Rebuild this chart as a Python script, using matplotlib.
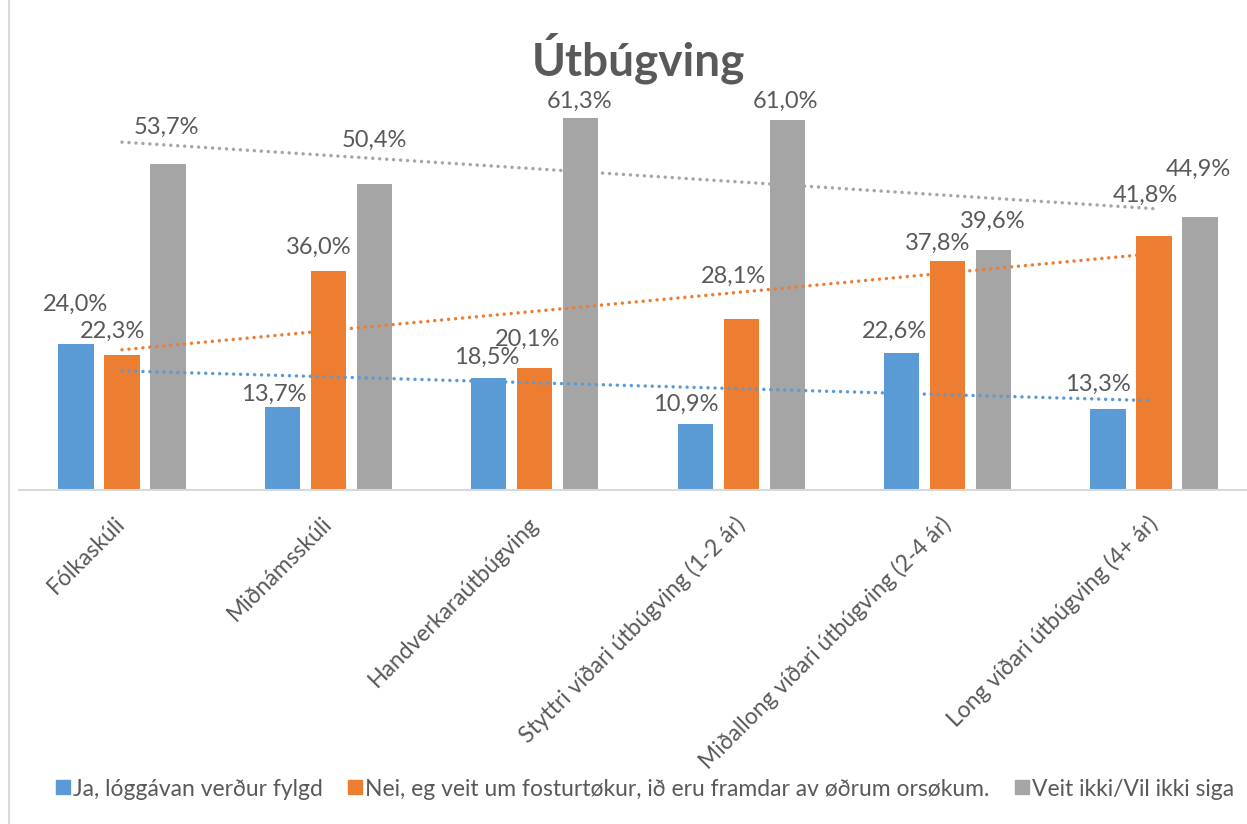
import matplotlib.pyplot as plt
import numpy as np
from matplotlib.lines import Line2D

plt.rcParams['font.family'] = ['Lato', 'DejaVu Sans']

categories = ['Fólkaskúli', 'Miðnámsskúli', 'Handverkaraútbúgving',
              'Styttri víðari útbúgving (1-2 ár)',
              'Miðallong víðari útbúgving (2-4 ár)',
              'Long víðari útbúgving (4+ ár)']
series_names = ['Ja, lóggávan verður fylgd',
                'Nei, eg veit um fosturtøkur, ið eru framdar av øðrum orsøkum.',
                'Veit ikki/Vil ikki siga']
ja = [24.0, 13.7, 18.5, 10.9, 22.6, 13.3]
nei = [22.3, 36.0, 20.1, 28.1, 37.8, 41.8]
veit_ikki = [53.7, 50.4, 61.3, 61.0, 39.6, 44.9]

colors = ['#5B9BD5', '#ED7D31', '#A5A5A5']
text_col = '#595959'

# where excel dropped each data label: (dx, dy) in pixels from the bar top
label_nudge = [
    [(-0.5, 41), (-9, 14), (-2, 22), (-9, 21), (-7, 23), (-10, 26)],
    [(-9.5, 25), (-10, 26), (-7, 30), (-8, 44.5), (-9.5, 18.5), (-9, 42)],
    [(-1.5, 38.5), (0, 45), (-1, 17.5), (-2, 19.5), (-1, 30), (-2, 50)],
]

W, H = 1247, 824
fig = plt.figure(figsize=(W / 100, H / 100), dpi=100)
# axes placed in pixels so the baseline sits at y=490
ax = fig.add_axes([18.8 / W, (H - 490) / H, 1238.4 / W, 425 / H])

x = np.arange(len(categories))
bar_w = 0.17
offs = [-0.223, 0, 0.223]
all_series = [ja, nei, veit_ikki]

for s, vals in enumerate(all_series):
    ax.bar(x + offs[s], vals, bar_w, color=colors[s], zorder=2)
    for i, v in enumerate(vals):
        dx, dy = label_nudge[s][i]
        ax.annotate(f'{v:.1f}%'.replace('.', ','), xy=(x[i] + offs[s], v),
                    xytext=(dx, dy - 8), textcoords='offset pixels',
                    ha='center', va='baseline', fontsize=17, color=text_col,
                    annotation_clip=False, zorder=4)
    # linear trendline, like excel's
    k, b = np.polyfit(x, vals, 1)
    ax.plot([x[0], x[-1]], [k * x[0] + b, k * x[-1] + b], color=colors[s],
            lw=2.5, linestyle=(0, (0.01, 2.0)), dash_capstyle='round', zorder=3)

ax.set_xlim(-0.5, len(categories) - 0.5)
ax.set_ylim(0, 70)
ax.set_yticks([])
for sp in ['top', 'right', 'left']:
    ax.spines[sp].set_visible(False)
ax.spines['bottom'].set_color('#D9D9D9')
ax.spines['bottom'].set_linewidth(1.5)

ax.set_xticks(x)
ax.set_xticklabels(categories, rotation=45, ha='right', va='center',
                   rotation_mode='anchor', fontsize=16.5, color=text_col)
ax.tick_params(axis='x', length=0, pad=22)

fig.text(638 / W, 1 - 76 / H, 'Útbúgving', ha='center', va='baseline',
         fontsize=33, fontweight='bold', color=text_col)

handles = [Line2D([], [], marker='s', ls='', color=c, markersize=9.5) for c in colors]
fig.legend(handles, series_names, loc='center', bbox_to_anchor=(644 / W, 1 - 789 / H),
           ncol=3, frameon=False, fontsize=16.5, handletextpad=0.05,
           columnspacing=1.0, handlelength=0.8, labelcolor=text_col)

# chart frame edge on the left
fig.add_artist(Line2D([9 / W, 9 / W], [0, 1], color='#D9D9D9', lw=1.5))

fig.savefig('out.png', dpi=100)
